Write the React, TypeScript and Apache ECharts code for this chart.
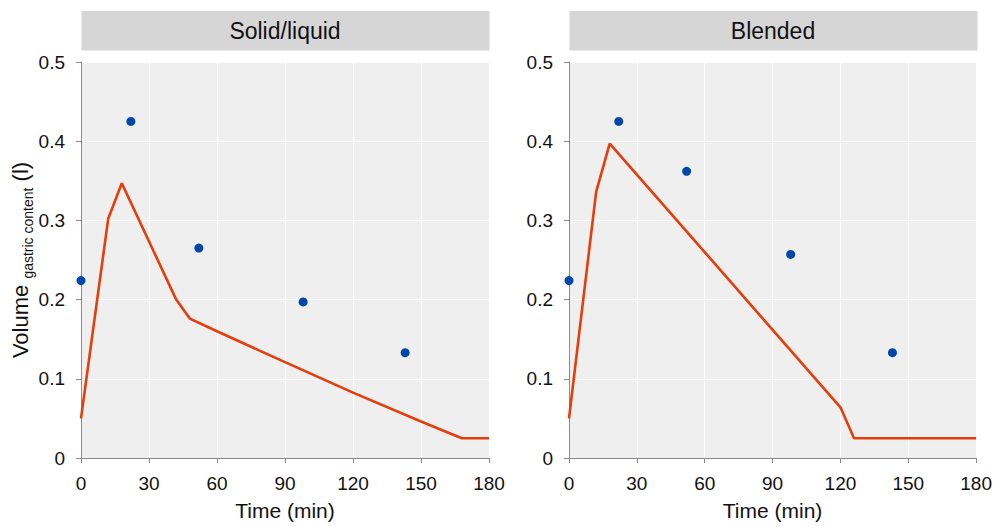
import React, { useEffect, useRef } from "react";
import * as echarts from "echarts";

const panels = ["Solid/liquid", "Blended"];
const xTicks = [0, 30, 60, 90, 120, 150, 180];
const yTicks = [0, 0.1, 0.2, 0.3, 0.4, 0.5];

const solidObsTime = [0, 22, 52, 98, 143];
const solidObsVol = [0.224, 0.425, 0.265, 0.197, 0.133];
const blendObsTime = [0, 22, 52, 98, 143];
const blendObsVol = [0.224, 0.425, 0.362, 0.257, 0.133];

const solidModelTime = [0, 12, 18, 42, 48, 60, 90, 120, 150, 168, 180];
const solidModelVol = [0.05, 0.302, 0.347, 0.2, 0.176, 0.16, 0.121, 0.0825, 0.046, 0.025, 0.025];
const blendModelTime = [0, 12, 18, 120, 126, 180];
const blendModelVol = [0.05, 0.336, 0.397, 0.064, 0.025, 0.025];

const FONT = "'Liberation Sans', Arial, sans-serif";
const LINE_COLOR = "#E53D0B";
const DOT_COLOR = "#0047AB";
const AXIS_COLOR = "#8a8a8a";

const gridLefts = [81, 569];
const gridWidth = 408;
const gridTop = 62;
const gridHeight = 400;

function pairs(xs: number[], ys: number[]) {
  return xs.map((x, i) => [x, ys[i]]);
}

export default function App() {
  const ref = useRef<HTMLDivElement>(null);
  useEffect(() => {
    if (!ref.current) return;
    const chart = echarts.init(ref.current, null, { renderer: "svg" });
    const grids = gridLefts.map((l) => ({
      left: l,
      top: gridTop,
      width: gridWidth,
      height: gridHeight,
      show: true,
      backgroundColor: "#EFEFEF",
      borderWidth: 0,
    }));
    const xAxes = gridLefts.map((_, i) => ({
      type: "value",
      gridIndex: i,
      min: xTicks[0],
      max: xTicks[xTicks.length - 1],
      interval: 30,
      name: "Time (min)",
      nameLocation: "middle",
      nameGap: 42,
      nameTextStyle: { fontFamily: FONT, fontSize: 21, color: "#111" },
      axisLine: { show: true, onZero: false, lineStyle: { color: AXIS_COLOR, width: 1 } },
      axisTick: { show: true, length: 5, lineStyle: { color: AXIS_COLOR } },
      axisLabel: { fontFamily: FONT, fontSize: 19, color: "#111", margin: 16 },
      splitLine: { show: true, lineStyle: { color: "#ffffff", width: 1.2 } },
    }));
    const yAxes = gridLefts.map((_, i) => ({
      type: "value",
      gridIndex: i,
      min: yTicks[0],
      max: yTicks[yTicks.length - 1],
      interval: 0.1,
      name: i === 0 ? "{a|Volume }{b|gastric content}{a| (l)}" : "",
      nameLocation: "middle",
      nameRotate: 90,
      nameGap: 47,
      nameTextStyle: {
        fontFamily: FONT,
        color: "#111",
        rich: {
          a: { fontFamily: FONT, fontSize: 22, lineHeight: 22, verticalAlign: "top", color: "#111" },
          b: {
            fontFamily: FONT,
            fontSize: 14,
            lineHeight: 14,
            padding: [11, 0, 0, 0],
            verticalAlign: "top",
            color: "#111",
          },
        },
      },
      axisLine: { show: true, onZero: false, lineStyle: { color: AXIS_COLOR, width: 1 } },
      axisTick: { show: true, length: 5, lineStyle: { color: AXIS_COLOR } },
      axisLabel: { fontFamily: FONT, fontSize: 19, color: "#111", margin: 16 },
      splitLine: { show: true, lineStyle: { color: "#ffffff", width: 1.2 } },
    }));

    const obs = [pairs(solidObsTime, solidObsVol), pairs(blendObsTime, blendObsVol)];
    const model = [pairs(solidModelTime, solidModelVol), pairs(blendModelTime, blendModelVol)];

    const series: any[] = [];
    for (let i = 0; i < 2; i++) {
      series.push({
        type: "line",
        xAxisIndex: i,
        yAxisIndex: i,
        data: model[i],
        showSymbol: false,
        symbol: "none",
        lineStyle: { color: LINE_COLOR, width: 2.6 },
        z: 3,
      });
      series.push({
        type: "scatter",
        xAxisIndex: i,
        yAxisIndex: i,
        data: obs[i],
        symbol: "circle",
        symbolSize: 9,
        itemStyle: { color: DOT_COLOR, opacity: 1 },
        z: 4,
      });
    }

    const graphic: any[] = [];
    panels.forEach((title, i) => {
      graphic.push({
        type: "rect",
        shape: { x: gridLefts[i] + 0.5, y: 11, width: gridWidth, height: 39.5 },
        style: { fill: "#D6D6D6" },
        silent: true,
      });
      graphic.push({
        type: "text",
        x: gridLefts[i] + gridWidth / 2,
        y: 31,
        style: {
          text: title,
          fontFamily: FONT,
          fontSize: 23,
          fill: "#111",
          textAlign: "center",
          textVerticalAlign: "middle",
        },
        silent: true,
      });
    });

    chart.setOption({
      animation: false,
      backgroundColor: "#ffffff",
      grid: grids,
      xAxis: xAxes,
      yAxis: yAxes,
      series,
      graphic,
    });
    return () => chart.dispose();
  }, []);
  return (
    <div
      ref={ref}
      style={{ position: "fixed", left: 0, top: 0, width: 995, height: 526 }}
    />
  );
}
